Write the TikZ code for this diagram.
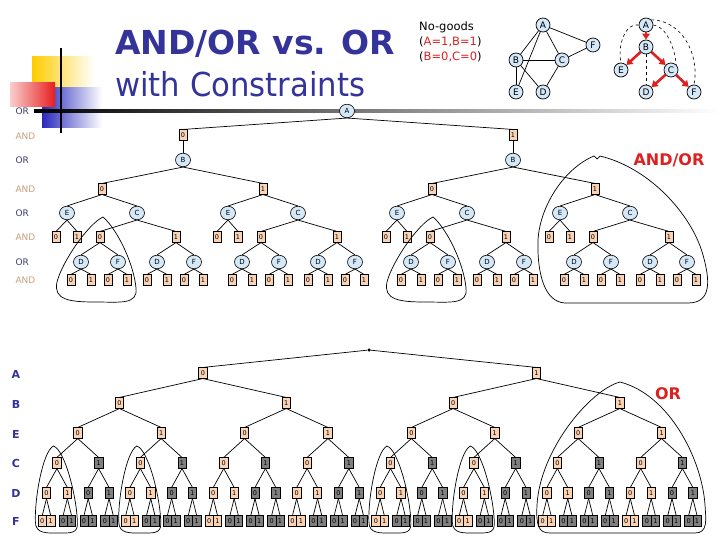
\documentclass[tikz,border=0pt]{standalone}
\usepackage{fontspec}
\setmainfont{DejaVu Sans}
\usetikzlibrary{arrows.meta,shapes.geometric}
\definecolor{peach}{HTML}{FAD3B4}
\definecolor{cblue}{HTML}{D4E8F8}
\definecolor{tblue}{HTML}{333399}
\definecolor{andc}{HTML}{C8A080}
\definecolor{orc}{HTML}{3C3C6E}
\definecolor{rred}{HTML}{DD2020}
\definecolor{grayb}{HTML}{808080}
\begin{document}
\begin{tikzpicture}[x=1pt,y=-1pt,
  sq/.style={draw=black,fill=peach,line width=0.6pt,minimum width=8.4pt,minimum height=10.5pt,inner sep=0pt,font=\fontsize{6.5}{6.5}\selectfont},
  ci/.style={ellipse,draw=black,fill=cblue,line width=0.6pt,minimum width=15pt,minimum height=13.5pt,inner sep=0pt,font=\fontsize{7}{7}\selectfont},
  gc/.style={circle,draw=black,fill=cblue,line width=0.7pt,minimum size=14pt,inner sep=0pt,font=\fontsize{9}{9}\selectfont},
  ed/.style={line width=0.7pt},
  blob/.style={line width=0.7pt},
  dsh/.style={dashed,line width=0.6pt},
  rarr/.style={draw=rred,line width=2.6pt,-{Triangle[length=6pt,width=7.5pt]}},
  andl/.style={anchor=west,text=andc,font=\fontsize{9}{9}\selectfont},
  orl/.style={anchor=west,text=orc,font=\fontsize{9}{9}\selectfont},
  rowl/.style={text=tblue,font=\bfseries\fontsize{11}{11}\selectfont}]
\useasboundingbox (0,0) rectangle (720,540);
\fill[white] (0,0) rectangle (720,540);
% decorations
\shade[left color={rgb,255:red,255;green,204;blue,0},middle color={rgb,255:red,255;green,204;blue,0},right color=white] (32,57) rectangle (94,103);
\shade[left color={rgb,255:red,40;green,40;blue,190},middle color={rgb,255:red,40;green,40;blue,190},right color=white] (42,88) rectangle (102,128);
\shade[left color={rgb,255:red,250;green,205;blue,205},right color={rgb,255:red,232;green,30;blue,30}] (10,83) rectangle (55,107);
\shade[left color=black,middle color=gray!90,right color=white] (34,109.5) rectangle (720,112.5);
\draw[line width=2.5pt] (61,48) -- (61,133);
% title
\node[anchor=base west,text=tblue,font=\bfseries\fontsize{33}{33}\selectfont,inner sep=0pt] (t1) at (115,55) {AND/OR vs. OR};
\node[anchor=base west,text=tblue,font=\fontsize{33}{33}\selectfont,inner sep=0pt] (t2) at (115,97) {\scalebox{0.93}[1]{with Constraints}};
% no-goods
\node[anchor=base west,inner sep=0pt,font=\fontsize{11.5}{11.5}\selectfont] (ng) at (419,31) {No-goods};
\node[anchor=base west,inner sep=0pt,font=\fontsize{11.5}{11.5}\selectfont] (ng1) at (419,46) {(\textcolor{rred}{A=1,B=1})};
\node[anchor=base west,inner sep=0pt,font=\fontsize{11.5}{11.5}\selectfont] (ng2) at (419,61) {(\textcolor{rred}{B=0,C=0})};
% constraint graph
\node[gc] (gA) at (543,25) {A};
\node[gc] (gF) at (593,45) {F};
\node[gc] (gB) at (516,60) {B};
\node[gc] (gC) at (562,60) {C};
\node[gc] (gE) at (516,92) {E};
\node[gc] (gD) at (543,92) {D};
\foreach \u/\v in {gA/gF,gA/gB,gA/gC,gA/gE,gB/gC,gB/gE,gB/gD,gC/gF,gC/gD} \draw[ed] (\u) -- (\v);
% pseudo tree
\node[gc] (pA) at (646,25) {A};
\node[gc] (pB) at (646,47) {B};
\node[gc] (pE) at (621,70) {E};
\node[gc] (pC) at (671,70) {C};
\node[gc] (pD) at (646,92) {D};
\node[gc] (pF) at (694,92) {F};
\draw[dsh] (pA.west) .. controls (626,22) and (617,45) .. (pE.north);
\draw[dsh] (pA.east) .. controls (666,26) and (675,48) .. (pC.north east);
\draw[dsh] (pA.north east) .. controls (682,20) and (700,55) .. (pF.north);
\draw[dsh] (pB) -- (pD);
\draw[rarr] (pA) -- (pB);
\draw[rarr] (pB) -- (pE);
\draw[rarr] (pB) -- (pC);
\draw[rarr] (pC) -- (pD);
\draw[rarr] (pC) -- (pF);
% AND/OR row labels
\node[orl] (lo1) at (12,111) {OR};
\node[andl] (la1) at (12,136) {AND};
\node[orl] (lo2) at (12,160) {OR};
\node[andl] (la2) at (12,189) {AND};
\node[orl] (lo3) at (12,213) {OR};
\node[andl] (la3) at (12,237) {AND};
\node[orl] (lo4) at (12,262) {OR};
\node[andl] (la4) at (12,280) {AND};
% AND/OR tree
\node[ci] (oA) at (347,111) {A};
\node[sq] (a0) at (183,135) {0};
\node[sq] (a1) at (513,135) {1};
\node[ci] (ob0) at (183,160) {B};
\node[ci] (ob1) at (513,160) {B};
\draw[ed] (oA.south) -- (a0.north);
\draw[ed] (oA.south) -- (a1.north);
\draw[ed] (a0) -- (ob0);
\draw[ed] (a1) -- (ob1);
\foreach \X/\s/\v/\pp in {102/1/0/0,263/2/1/0,432/3/0/1,595/4/1/1} {
  \node[sq] (s\s) at (\X,189) {\v};
  \draw[ed] (ob\pp.south) -- (s\s.north);
  \node[ci] (e\s) at (\X-35,213) {E};
  \node[ci] (c\s) at (\X+35,213) {C};
  \draw[ed] (s\s.south) -- (e\s.north);
  \draw[ed] (s\s.south) -- (c\s.north);
  \node[sq] (e\s-0) at (\X-46,237) {0};
  \node[sq] (e\s-1) at (\X-25,237) {1};
  \draw[ed] (e\s.south) -- (e\s-0.north);
  \draw[ed] (e\s.south) -- (e\s-1.north);
  \node[sq] (c\s-0) at (\X-2,237) {0};
  \node[sq] (c\s-1) at (\X+74,237) {1};
  \draw[ed] (c\s.south) -- (c\s-0.north);
  \draw[ed] (c\s.south) -- (c\s-1.north);
  \foreach \t/\off in {0/-2,1/74} {
    \node[ci] (d\s\t) at (\X+\off-19,262) {D};
    \node[ci] (f\s\t) at (\X+\off+18,262) {F};
    \draw[ed] (c\s-\t.south) -- (d\s\t.north);
    \draw[ed] (c\s-\t.south) -- (f\s\t.north);
    \node[sq] (d\s\t-0) at (\X+\off-29,280) {0};
    \node[sq] (d\s\t-1) at (\X+\off-9,280) {1};
    \node[sq] (f\s\t-0) at (\X+\off+8,280) {0};
    \node[sq] (f\s\t-1) at (\X+\off+27,280) {1};
    \draw[ed] (d\s\t.south) -- (d\s\t-0.north);
    \draw[ed] (d\s\t.south) -- (d\s\t-1.north);
    \draw[ed] (f\s\t.south) -- (f\s\t-0.north);
    \draw[ed] (f\s\t.south) -- (f\s\t-1.north);
  }
}
% AND/OR blobs
\foreach \sh in {0,330} {
  \draw[blob,xshift=\sh pt] (103,217) .. controls (88,224) and (62,262) .. (57,282) .. controls (53,300) and (70,302) .. (95,302) .. controls (120,302) and (138,305) .. (136,288) .. controls (134,265) and (118,230) .. cycle;
}
\draw[blob] (594,156) .. controls (565,168) and (540,205) .. (538,240) .. controls (537,275) and (545,302) .. (565,303) -- (688,303) .. controls (712,303) and (710,280) .. (703,255) .. controls (692,215) and (650,168) .. (600,156) -- (597,159) -- cycle;
\node[text=rred,font=\bfseries\fontsize{16}{16}\selectfont] (lao) at (669,160) {AND/OR};
% OR tree labels
\node[rowl] (rA) at (16,374) {A};
\node[rowl] (rB) at (16,404) {B};
\node[rowl] (rE) at (16,434) {E};
\node[rowl] (rC) at (16,463) {C};
\node[rowl] (rD) at (16,493) {D};
\node[rowl] (rF) at (16,521) {F};
% OR tree
\node[circle,fill=black,inner sep=0pt,minimum size=3.5pt] (root) at (369,350) {};
\foreach \p in {0,1} {
  \pgfmathsetmacro\x{46.5+20.85*(16*\p+7.5)}
  \node[sq] (A-\p) at (\x,373) {\p};
  \draw[ed] (root) -- (A-\p.north);
}
\foreach \n in {0,...,3} {
  \pgfmathsetmacro\x{46.5+20.85*(8*\n+3.5)}
  \pgfmathtruncatemacro\b{mod(\n,2)}
  \pgfmathtruncatemacro\a{floor(\n/2)}
  \node[sq] (B-\n) at (\x,403) {\b};
  \draw[ed] (A-\a.south) -- (B-\n.north);
}
\foreach \m in {0,...,7} {
  \pgfmathsetmacro\x{46.5+20.85*(4*\m+1.5)}
  \pgfmathtruncatemacro\b{mod(\m,2)}
  \pgfmathtruncatemacro\a{floor(\m/2)}
  \node[sq] (E-\m) at (\x,433) {\b};
  \draw[ed] (B-\a.south) -- (E-\m.north);
}
\foreach \k in {0,...,15} {
  \pgfmathsetmacro\x{46.5+20.85*(2*\k+0.5)}
  \pgfmathtruncatemacro\b{mod(\k,2)}
  \pgfmathtruncatemacro\a{floor(\k/2)}
  \ifnum\b=1 \def\fc{grayb}\else\def\fc{peach}\fi
  \node[sq,fill=\fc] (C-\k) at (\x,463) {\b};
  \draw[ed] (E-\a.south) -- (C-\k.north);
}
\foreach \j in {0,...,31} {
  \pgfmathsetmacro\x{46.5+20.85*\j}
  \pgfmathtruncatemacro\b{mod(\j,2)}
  \pgfmathtruncatemacro\a{floor(\j/2)}
  \pgfmathtruncatemacro\g{mod(\a,2)}
  \ifnum\g=1 \def\fc{grayb}\else\def\fc{peach}\fi
  \node[sq,fill=\fc] (D-\j) at (\x,493) {\b};
  \draw[ed] (C-\a.south) -- (D-\j.north);
}
\foreach \i in {0,...,63} {
  \pgfmathtruncatemacro\a{floor(\i/2)}
  \pgfmathtruncatemacro\b{mod(\i,2)}
  \pgfmathsetmacro\x{46.5+20.85*\a+(2*\b-1)*4.2}
  \pgfmathtruncatemacro\g{mod(\a,4)}
  \ifnum\g=0 \def\fc{peach}\else\def\fc{grayb}\fi
  \node[sq,fill=\fc] (L-\i) at (\x,521) {\b};
  \draw[ed] (D-\a.south) -- (L-\i.north);
}
% OR blobs
\foreach \cx in {57.4,140.8,390.9,474.3} {
  \draw[blob] (\cx-4,446) .. controls (\cx-15,452) and (\cx-23,500) .. (\cx-22,522) .. controls (\cx-22,534) and (\cx-10,533) .. (\cx,533) .. controls (\cx+12,533) and (\cx+20,534) .. (\cx+20,524) .. controls (\cx+20,500) and (\cx+8,450) .. cycle;
}
\draw[blob] (620,382) .. controls (590,390) and (540,450) .. (537,505) .. controls (536,525) and (538,533) .. (550,533) -- (695,533) .. controls (708,533) and (706,520) .. (705,505) .. controls (702,460) and (670,395) .. cycle;
\node[text=rred,font=\bfseries\fontsize{16}{16}\selectfont] (lor) at (668,394) {OR};
\end{tikzpicture}
\end{document}
